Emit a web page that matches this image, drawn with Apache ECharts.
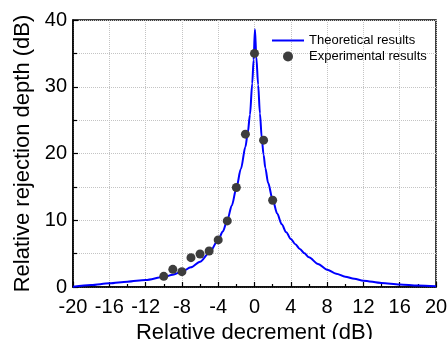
<!DOCTYPE html>
<html>
<head>
<meta charset="utf-8">
<script src="https://cdn.jsdelivr.net/npm/echarts@6/dist/echarts.min.js"></script>
<style>
html,body{margin:0;padding:0;background:#fff;}
#chart{width:448px;height:339px;}
</style>
</head>
<body>
<div id="chart"></div>
<script>
// Theoretical curve
const theoX = [-20,-18,-16,-14,-12,-10,-9,-8,-7,-6,-5,-4,-3.5,-3,-2.5,-2,-1.5,-1,-0.75,-0.5,-0.25,-0.1,0.05,0.2,0.4,0.6,0.8,1,1.2,1.5,2,2.5,3,3.5,4,4.5,5,5.5,6,7,8,9,10,11,12,14,16,18,20];
const theoY = [0.05,0.3,0.55,0.8,1.05,1.5,1.85,2.3,2.95,3.8,5.1,7.0,8.3,10.0,12.2,14.8,17.7,21.0,23.0,25.8,30.5,34.0,38.6,34.5,30.3,26.0,22.3,19.8,17.8,15.6,13.1,11.0,9.4,8.2,7.2,6.4,5.7,5.05,4.45,3.45,2.6,2.0,1.55,1.22,0.95,0.6,0.38,0.22,0.12];
// Experimental points
const expX = [-10,-9,-8,-7,-6,-5,-4,-3,-2,-1,0,1,2];
const expY = [1.6,2.65,2.3,4.4,4.95,5.4,7.05,9.9,14.9,22.9,35.0,22.0,13.0];
// Axis ranges / labels
const xMin = -20, xMax = 20, xStep = 4;
const yMin = 0, yMax = 40, yStep = 10;
const xTitle = 'Relative decrement (dB)';
const yTitle = 'Relative rejection depth (dB)';
const seriesNames = ['Theoretical results', 'Experimental results'];

const FONT = '"Liberation Sans", Arial, sans-serif';
const chart = echarts.init(document.getElementById('chart'), null, {renderer: 'canvas'});
const gridLine = {show: true, lineStyle: {color: '#c4c4c4', type: 'dotted', width: 1}};
chart.setOption({
  animation: false,
  backgroundColor: '#fff',
  grid: {left: 73, right: 12, top: 20, bottom: 52, show: true, borderColor: '#000', borderWidth: 1.5, containLabel: false, outerBoundsMode: 'none'},
  legend: {
    orient: 'vertical', left: 271, top: 34, padding: 0, itemWidth: 32, itemHeight: 10, itemGap: 3,
    textStyle: {fontFamily: FONT, fontSize: 13, color: '#000', lineHeight: 12},
    data: [{name: seriesNames[0], itemStyle: {opacity: 0}}, {name: seriesNames[1]}]
  },
  xAxis: {
    type: 'value', min: xMin, max: xMax, interval: xStep,
    name: xTitle, nameLocation: 'middle', nameGap: 28,
    nameTextStyle: {fontFamily: FONT, fontSize: 22, color: '#000'},
    axisLine: {show: true, onZero: false, lineStyle: {color: '#000', width: 1.5}},
    axisTick: {show: true, inside: true, length: 5, lineStyle: {color: '#000', width: 1.2}},
    minorTick: {show: true, splitNumber: 2, length: 3, lineStyle: {color: '#000', width: 1.2}},
    axisLabel: {fontFamily: FONT, fontSize: 20, color: '#000', margin: 10},
    splitLine: gridLine
  },
  yAxis: {
    type: 'value', min: yMin, max: yMax, interval: yStep,
    name: yTitle, nameLocation: 'middle', nameGap: 38, nameRotate: 90,
    nameTextStyle: {fontFamily: FONT, fontSize: 22, color: '#000'},
    axisLine: {show: true, onZero: false, lineStyle: {color: '#000', width: 1.5}},
    axisTick: {show: true, inside: true, length: 5, lineStyle: {color: '#000', width: 1.2}},
    minorTick: {show: true, splitNumber: 2, length: 4, lineStyle: {color: '#000', width: 1.2}},
    axisLabel: {fontFamily: FONT, fontSize: 20, color: '#000', margin: 6},
    splitLine: gridLine,
    minorSplitLine: gridLine
  },
  series: [
    {
      name: seriesNames[0], type: 'line', symbol: 'none', smooth: 0.3, smoothMonotone: 'x',
      lineStyle: {color: '#0000ff', width: 2},
      itemStyle: {color: '#0000ff'},
      data: theoX.map((x, i) => [x, theoY[i]]),
      z: 2
    },
    {
      name: seriesNames[1], type: 'scatter', symbol: 'circle', symbolSize: 9,
      itemStyle: {color: '#3d3d3d', opacity: 1},
      data: expX.map((x, i) => [x, expY[i]]),
      z: 3
    }
  ]
});
</script>
</body>
</html>
